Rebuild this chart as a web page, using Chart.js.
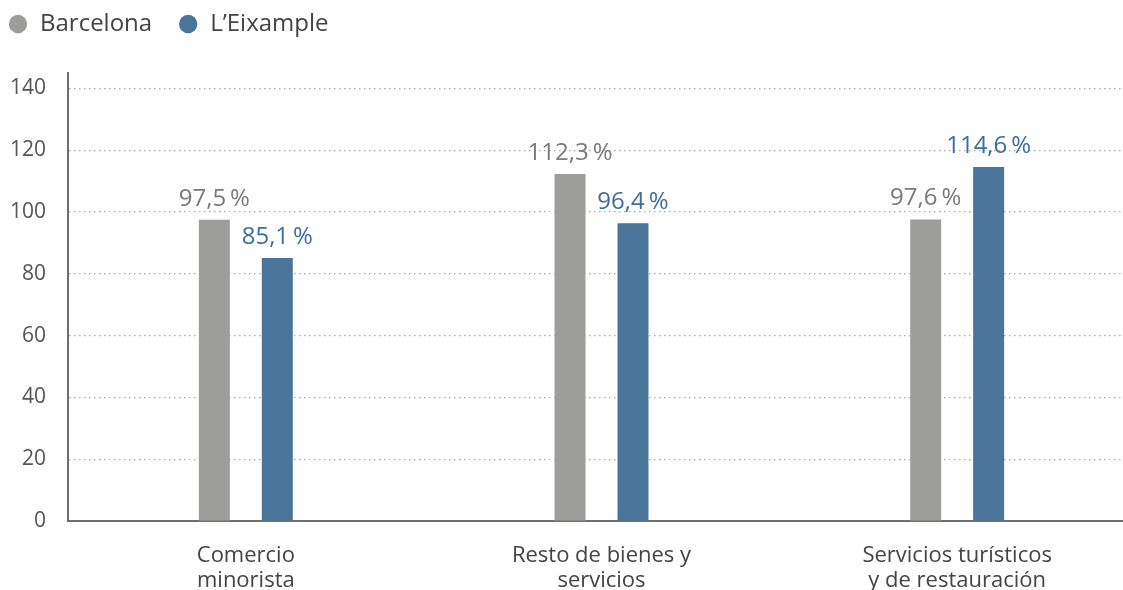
<!DOCTYPE html>
<html lang="es">
<head>
<meta charset="utf-8">
<title>Barcelona vs L'Eixample</title>
<script src="https://cdn.jsdelivr.net/npm/chart.js@4.4.1/dist/chart.umd.min.js"></script>
<style>
  html, body { margin: 0; padding: 0; background: #fff; overflow: hidden; }
  #wrap { position: relative; width: 1135px; height: 590px; }
</style>
</head>
<body>
<div id="wrap"><canvas id="chart"></canvas></div>
<script>
// Data
const categories = [
    ['Comercio', 'minorista'],
    ['Resto de bienes y', 'servicios'],
    ['Servicios turísticos', 'y de restauración']
];
const seriesNames = ['Barcelona', 'L\u2019Eixample'];
const barcelona = [97.5, 112.3, 97.6];
const eixample = [85.1, 96.4, 114.6];
const yTicks = [0, 20, 40, 60, 80, 100, 120, 140];

// Colours
const barColors = ['#9d9d9c', '#4a7499'];
const labelColors = ['#7a7a7a', '#3e6f9a'];
const FONT = '"Open Sans", sans-serif';

// Spanish number format: 97,5 %
function fmt(v) {
    return v.toFixed(1).replace('.', ',') + '\u2009%';
}

// Value labels above each bar
const valueLabels = {
    id: 'valueLabels',
    afterDatasetsDraw(chart) {
        const ctx = chart.ctx;
        ctx.save();
        ctx.font = '24px ' + FONT;
        ctx.textAlign = 'center';
        ctx.textBaseline = 'alphabetic';
        chart.data.datasets.forEach((ds, i) => {
            const meta = chart.getDatasetMeta(i);
            ctx.fillStyle = labelColors[i];
            meta.data.forEach((bar, j) => {
                ctx.fillText(fmt(ds.data[j]), bar.x, bar.y - 14);
            });
        });
        ctx.restore();
    }
};

// Give the legend a fixed height so the plot starts where it should
const legendHeight = {
    id: 'legendHeight',
    beforeInit(chart) {
        const fit = chart.legend.fit;
        chart.legend.fit = function () {
            fit.bind(chart.legend)();
            this.height = 87;
        };
    }
};

new Chart(document.getElementById('chart'), {
    type: 'bar',
    data: {
        labels: categories,
        datasets: [
            { label: seriesNames[0], data: barcelona, backgroundColor: barColors[0], borderWidth: 0 },
            { label: seriesNames[1], data: eixample, backgroundColor: barColors[1], borderWidth: 0 }
        ]
    },
    options: {
        responsive: true,
        maintainAspectRatio: false,
        animation: false,
        devicePixelRatio: 1,
        layout: { padding: { left: -18, top: -14, right: 0, bottom: -25 } },
        datasets: {
            bar: { categoryPercentage: 0.354, barPercentage: 0.492 }
        },
        plugins: {
            legend: {
                position: 'top',
                align: 'start',
                labels: {
                    usePointStyle: true,
                    pointStyle: 'circle',
                    boxWidth: 20,
                    boxHeight: 13,
                    padding: 26,
                    color: '#444',
                    font: { family: FONT, size: 24 }
                }
            },
            tooltip: { enabled: false }
        },
        scales: {
            x: {
                grid: { display: false, drawTicks: false },
                border: { display: true, color: '#6f6f6f', width: 2 },
                ticks: {
                    color: '#444',
                    padding: 22,
                    maxRotation: 0,
                    font: { family: FONT, size: 22, lineHeight: 1.136 }
                }
            },
            y: {
                min: 0,
                max: 145,
                afterBuildTicks(scale) {
                    scale.ticks = yTicks.map(v => ({ value: v }));
                },
                afterFit(scale) {
                    scale.width = 86;
                },
                grid: { color: '#aaaaaa', lineWidth: 1.2, drawTicks: false },
                border: { display: true, color: '#6f6f6f', width: 2, dash: [1.5, 3.5] },
                ticks: {
                    color: '#555',
                    padding: 22,
                    font: { family: FONT, size: 21 }
                }
            }
        }
    },
    plugins: [valueLabels, legendHeight]
});
</script>
</body>
</html>
